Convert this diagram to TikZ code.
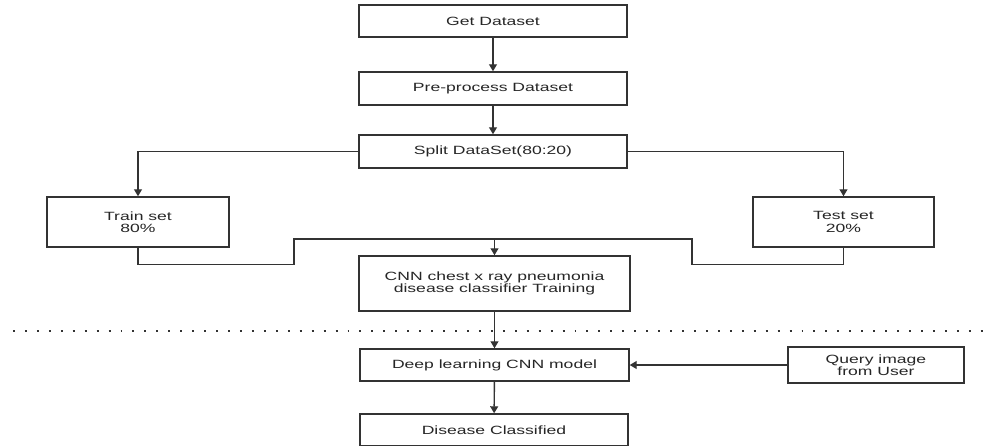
\documentclass[tikz,border=0pt]{standalone}
\usepackage{fontspec}
\setmainfont{Liberation Sans}[FakeStretch=1.47]
\usepackage{tikz}
\usepackage{xcolor}
\usetikzlibrary{positioning,arrows.meta}

\definecolor{edge}{HTML}{333333}

\begin{document}
\begin{tikzpicture}[
        x=0.02cm, y=-0.02cm,
        font=\fontsize{6.8}{7}\selectfont,
        stepbox/.style={rectangle, draw=edge, line width=0.8pt, fill=white, align=center, inner sep=0pt, text=black!85},
        link/.style={draw=edge, line width=0.8pt},
        arrow/.style={link, -{Triangle[width=4.5pt,length=4pt]}}
    ]
        \useasboundingbox (0,0) rectangle (998,446);

        % Main flow
        \node[stepbox, minimum width=5.36cm, minimum height=0.64cm] (get) at (493,21) {Get Dataset};
        \node[stepbox, minimum width=5.36cm, minimum height=0.66cm] (prep) at (493,88.5) {Pre-process Dataset};
        \node[stepbox, minimum width=5.36cm, minimum height=0.66cm] (split) at (493,151.5) {Split DataSet(80:20)};

        % Train / test
        \node[stepbox, minimum width=3.64cm, minimum height=1cm] (train) at (138,222) {Train set\\80\%};
        \node[stepbox, minimum width=3.62cm, minimum height=1cm] (test) at (843.5,222) {Test set\\20\%};

        \node[stepbox, minimum width=5.42cm, minimum height=1.1cm] (cnn) at (494.5,283.5) {CNN chest x ray pneumonia\\disease classifier Training};

        % Separator
        \coordinate (sepl) at (13,331);
        \coordinate (sepr) at (990,331);
        \draw[edge, line width=1.1pt, dash pattern=on 1.1pt off 5.7pt] (sepl) -- (sepr);

        % Use of the model
        \node[stepbox, minimum width=5.38cm, minimum height=0.64cm] (deep) at (494.5,365) {Deep learning CNN model};
        \node[stepbox, minimum width=3.52cm, minimum height=0.72cm] (query) at (876,365) {Query image\\from User};
        \node[stepbox, minimum width=5.36cm, minimum height=0.64cm] (disease) at (494,430) {Disease Classified};

        % Connections
        \coordinate (jl) at (294,239);
        \coordinate (jr) at (692,239);
        \draw[arrow] (get) -- (prep);
        \draw[arrow] (prep) -- (split);
        \draw[arrow] (split.west) -| (train.north);
        \draw[arrow] (split.east) -| (test.north);
        \draw[arrow] (train.south) -- ++(0,17) -| (jl) -| (cnn.north);
        \draw[link] (test.south) -- ++(0,17) -| (jr) -- (jr -| cnn.north);
        \draw[arrow] (cnn) -- (deep);
        \draw[arrow] (query) -- (deep);
        \draw[arrow] (deep) -- (disease);
    \end{tikzpicture}
\end{document}
